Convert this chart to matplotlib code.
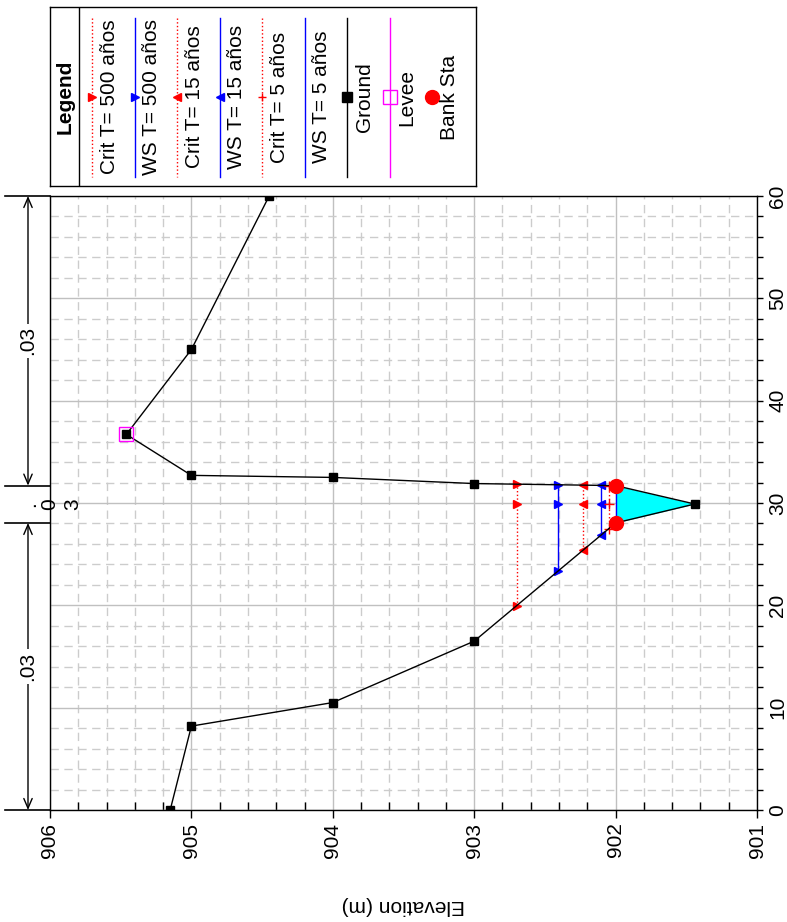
import numpy as np
import matplotlib
matplotlib.use("Agg")
import matplotlib.pyplot as plt
import matplotlib.ticker as ticker
import matplotlib.transforms as mtransforms

plt.rcParams["font.family"] = ["Liberation Sans", "DejaVu Sans"]

# ---- Data (station in m, elevation in m) ----
ground_sta = [0.0, 8.2, 10.5, 16.5, 28.05, 29.9, 31.7, 31.9, 32.5, 32.7, 36.7, 45.0, 60.0]
ground_elev = [905.15, 905.0, 904.0, 903.0, 902.0, 901.44, 902.0, 903.0, 904.0, 905.0, 905.46, 905.0, 904.45]

levee_sta = [36.7]
levee_elev = [905.46]

bank_sta = [28.05, 31.7]
bank_elev = [902.0, 902.0]

profile_names = ["Crit T= 500 años", "WS T= 500 años", "Crit T= 15 años",
                 "WS T= 15 años", "Crit T= 5 años", "WS T= 5 años"]
profile_levels = [902.70, 902.41, 902.23, 902.10, 902.05, 902.00]

n_sta = [0.0, 28.05, 31.7, 60.0]
n_vals = [".03", ".03", ".03"]

# ---- Styles ----
profile_styles = [
    dict(color="red", ls=":", marker=">"),
    dict(color="blue", ls="-", marker=">"),
    dict(color="red", ls=":", marker="<"),
    dict(color="blue", ls="-", marker="<"),
    dict(color="red", ls=":", marker="+"),
    dict(color="blue", ls="-", marker=None),
]

W, H = 787, 922
FS = 15


def wet_limits(level):
    """Left/right stations where the water level meets the ground around the thalweg."""
    sta = np.asarray(ground_sta)
    elev = np.asarray(ground_elev)
    thal = int(np.argmin(elev))
    left = right = sta[thal]
    for i in range(thal, 0, -1):
        e0, e1 = elev[i - 1], elev[i]
        if e0 >= level >= e1 and e0 != e1:
            left = sta[i - 1] + (e0 - level) / (e0 - e1) * (sta[i] - sta[i - 1])
            break
    for i in range(thal, len(sta) - 1):
        e0, e1 = elev[i], elev[i + 1]
        if e0 <= level <= e1 and e0 != e1:
            right = sta[i] + (level - e0) / (e1 - e0) * (sta[i + 1] - sta[i])
            break
    return left, right, sta[thal]


fig = plt.figure(figsize=(W / 100, H / 100), dpi=100)
ax = fig.add_axes([50 / W, 1 - 810 / H, 707 / W, 614 / H])

# water area under the lowest profile
ws_low = min(profile_levels)
g_sta = np.asarray(ground_sta)
g_elev = np.asarray(ground_elev)
ax.fill_betweenx(g_sta, g_elev, ws_low, where=g_elev <= ws_low, interpolate=True,
                 color="#00ffff", lw=0, zorder=2)

# water surface / critical lines
for name, lvl, st in zip(profile_names, profile_levels, profile_styles):
    left, right, mid = wet_limits(lvl)
    ax.plot([lvl, lvl], [left, right], color=st["color"], ls=st["ls"], lw=1, zorder=3)
    if st["marker"]:
        ax.plot([lvl] * 3, [left, mid, right], ls="none", marker=st["marker"],
                color=st["color"], ms=7 if st["marker"] == "+" else 6, mew=1, zorder=4)

# ground
ax.plot(ground_elev, ground_sta, color="black", lw=1, marker="s", ms=6, zorder=5)
ax.plot(levee_elev, levee_sta, ls="none", marker="s", ms=10, mfc="none",
        mec="magenta", mew=1, zorder=6)
ax.plot(bank_elev, bank_sta, ls="none", marker="o", ms=10, color="red", zorder=6)

# axes
ax.set_xlim(906, 901)
ax.set_ylim(0, 60)
ax.xaxis.set_major_locator(ticker.MultipleLocator(1))
ax.xaxis.set_minor_locator(ticker.MultipleLocator(0.2))
ax.yaxis.set_major_locator(ticker.MultipleLocator(10))
ax.yaxis.set_minor_locator(ticker.MultipleLocator(2))
ax.xaxis.set_major_formatter(ticker.FormatStrFormatter("%d"))
ax.tick_params(axis="x", which="major", direction="out", length=6, width=1,
               labelsize=FS, labelrotation=90, pad=3)
ax.tick_params(axis="x", which="minor", direction="in", length=6, width=1)
ax.tick_params(axis="y", which="both", left=False, right=True, labelleft=False,
               labelright=True, direction="out", length=4, width=1,
               labelsize=FS, labelrotation=90, pad=4)
for lbl in ax.get_yticklabels():
    lbl.set_va("center")
ax.grid(which="major", color="#c0c0c0", lw=1, ls="-")
ax.grid(which="minor", color="#cccccc", lw=1, ls=(0, (6, 4)))
ax.set_axisbelow(True)
for sp in ax.spines.values():
    sp.set_linewidth(1)

# Manning's n regions (left of the plot)
trans = mtransforms.blended_transform_factory(ax.transAxes, ax.transData)
x_arrow = (28 - 50) / 707
x_edge = (5 - 50) / 707
for s in n_sta:
    ax.plot([x_edge, 0], [s, s], color="black", lw=1.2, transform=trans, clip_on=False)
for i, val in enumerate(n_vals):
    s0, s1 = n_sta[i], n_sta[i + 1]
    if s1 - s0 > 10:
        ax.annotate("", xy=(x_arrow, s0), xytext=(x_arrow, s1), xycoords=trans,
                    textcoords=trans, annotation_clip=False,
                    arrowprops=dict(arrowstyle="<->,head_length=0.7,head_width=0.3",
                                    lw=1, color="black", shrinkA=0, shrinkB=0))
        ax.text(x_arrow, (s0 + s1) / 2, val, rotation=90, ha="center", va="center",
                fontsize=FS, transform=trans, clip_on=False, zorder=7,
                bbox=dict(fc="white", ec="none", pad=2))
    else:
        # narrow region: characters stacked one after another
        char_px = [30, 50, 73]
        for ch, px in zip(val, char_px):
            ax.text((px - 50) / 707, (s0 + s1) / 2, ch, rotation=90, ha="center",
                    va="center", fontsize=FS, transform=trans, clip_on=False, zorder=7)

fig.text(403 / W, 1 - 905 / H, "Elevation (m)", rotation=180, ha="center",
         va="center", fontsize=FS)

# ---- Legend (drawn rotated, like the reference) ----
lg = fig.add_axes([50 / W, 1 - 186 / H, 426 / W, 179 / H])
lg.set_xlim(0, 426)
lg.set_ylim(179, 0)
lg.set_xticks([])
lg.set_yticks([])
for sp in lg.spines.values():
    sp.set_linewidth(1)
lg.axvline(29, color="black", lw=1)
lg.text(15, 90, "Legend", rotation=90, ha="center", va="center", fontsize=FS,
        fontweight="bold")

col0, dcol, ymid = 42, 42.5, 90
legend_entries = list(zip(profile_names, profile_styles))
legend_entries += [("Ground", dict(color="black", ls="-", marker="s")),
                   ("Levee", dict(color="magenta", ls="-", marker="levee")),
                   ("Bank Sta", dict(color="red", ls="none", marker="o"))]
for k, (name, st) in enumerate(legend_entries):
    xc = col0 + k * dcol
    if st["ls"] != "none":
        lg.plot([xc, xc], [11, 170], color=st["color"], ls=st["ls"], lw=1)
    m = st["marker"]
    if m == "levee":
        lg.plot([xc], [ymid], ls="none", marker="s", ms=10, mfc="none",
                mec="magenta", mew=1)
    elif m == "o":
        lg.plot([xc], [ymid], ls="none", marker="o", ms=10, color="red")
    elif m == "s":
        lg.plot([xc], [ymid], ls="none", marker="s", ms=7, color="black")
    elif m:
        lg.plot([xc], [ymid], ls="none", marker=m, ms=6, color=st["color"])
    lg.text(xc + 17, ymid, name, rotation=90, ha="center", va="center", fontsize=FS)

fig.savefig("out.png", dpi=100)
